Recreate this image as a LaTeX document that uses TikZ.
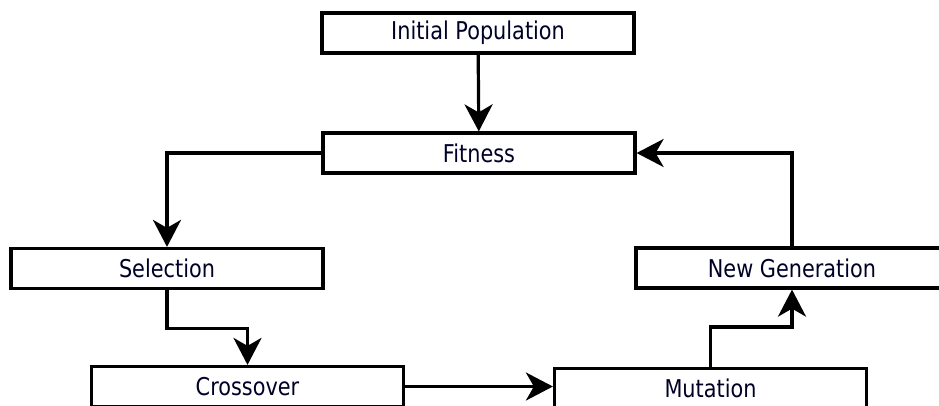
\documentclass[tikz,border=0pt]{standalone}
\usepackage{fontspec}
\setmainfont{DejaVu Sans}[FakeStretch=0.85]
\usetikzlibrary{arrows.meta}
\begin{document}
\begin{tikzpicture}[x=1pt,y=-1pt,
  box/.style={draw, line width=3.2pt, rectangle, minimum width=312pt, minimum height=40pt, inner sep=0pt, text=black!85!blue, font=\fontsize{24.5}{24.5}\selectfont},
  flow/.style={line width=3.2pt, -{Stealth[length=27pt,width=28pt,inset=8pt]}}]
\useasboundingbox (0,0) rectangle (939,405);
\node[box] (ip)  at (478,33)    {Initial Population};
\node[box] (fit) at (479,153)   {Fitness};
\node[box] (sel) at (167,268.5) {Selection};
\node[box] (cro) at (247.5,386.5) {Crossover};
\node[box] (mut) at (710.5,388.5) {Mutation};
\node[box] (ng)  at (792,268)   {New Generation};
\draw[flow] (ip) -- (fit);
\draw[flow] (fit.west) -| (sel.north);
\draw[flow] (sel.south) -- ++(0,38) -| (cro.north);
\draw[flow] (cro.east) -- (cro.east -| mut.west);
\draw[flow] (mut.north) -- ++(0,-40) -| (ng.south);
\draw[flow] (ng.north) |- (fit.east);
\end{tikzpicture}
\end{document}
